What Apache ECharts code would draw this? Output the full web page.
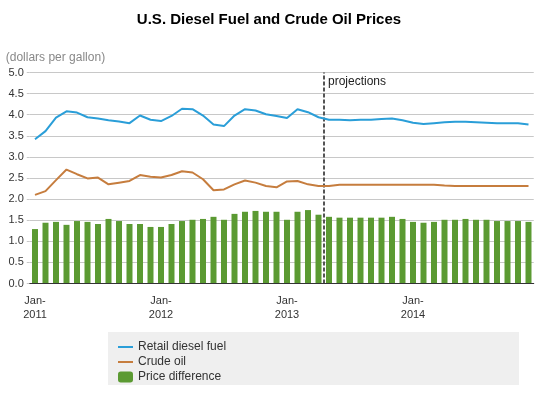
<!DOCTYPE html>
<html>
<head>
<meta charset="utf-8">
<title>U.S. Diesel Fuel and Crude Oil Prices</title>
<script src="https://cdn.jsdelivr.net/npm/echarts@6/dist/echarts.min.js"></script>
<style>
    html, body { margin: 0; padding: 0; background: #fff; }
    #chart { width: 538px; height: 397px; }
</style>
</head>
<body>
<div id="chart"></div>
<script>
var years = ['2011', '2012', '2013', '2014'];
var monthNames = ['Jan', 'Feb', 'Mar', 'Apr', 'May', 'Jun', 'Jul', 'Aug', 'Sep', 'Oct', 'Nov', 'Dec'];

// dollars per gallon, monthly Jan-2011 .. Dec-2014
var dieselFuel = [
    3.42, 3.61, 3.93, 4.08, 4.05, 3.94, 3.91, 3.87, 3.84, 3.80, 3.98, 3.88,
    3.85, 3.97, 4.14, 4.13, 3.98, 3.77, 3.73, 3.98, 4.13, 4.10, 4.01, 3.97,
    3.92, 4.13, 4.06, 3.94, 3.88, 3.88, 3.87, 3.88, 3.88, 3.90, 3.91, 3.87,
    3.81, 3.78, 3.80, 3.82, 3.83, 3.83, 3.82, 3.81, 3.80, 3.80, 3.80, 3.77
];
var crudeOil = [
    2.10, 2.19, 2.45, 2.70, 2.59, 2.49, 2.51, 2.35, 2.39, 2.43, 2.57, 2.53,
    2.51, 2.57, 2.66, 2.63, 2.47, 2.21, 2.23, 2.35, 2.44, 2.39, 2.31, 2.28,
    2.42, 2.43, 2.35, 2.31, 2.31, 2.34, 2.34, 2.34, 2.34, 2.34, 2.34, 2.34,
    2.34, 2.34, 2.34, 2.32, 2.31, 2.31, 2.31, 2.31, 2.31, 2.31, 2.31, 2.31
];
var priceDifference = [
    1.29, 1.44, 1.46, 1.39, 1.48, 1.46, 1.41, 1.53, 1.48, 1.41, 1.41, 1.34,
    1.34, 1.41, 1.48, 1.51, 1.53, 1.58, 1.51, 1.65, 1.70, 1.72, 1.70, 1.70,
    1.51, 1.70, 1.74, 1.63, 1.58, 1.56, 1.56, 1.56, 1.56, 1.56, 1.58, 1.53,
    1.46, 1.44, 1.46, 1.51, 1.51, 1.53, 1.51, 1.51, 1.48, 1.48, 1.48, 1.46
];
// projections start at the boundary between Apr-2013 and May-2013 (month 28)
var projectionStart = 28;

var months = [];
years.forEach(function(year){
    monthNames.forEach(function(m){
        months.push(m + '-' + year);
    });
});

var font = '"Liberation Sans", Arial, sans-serif';
var chart = echarts.init(document.getElementById('chart'));

chart.setOption({
    animation: false,
    textStyle: { fontFamily: font },
    title: {
        text: 'U.S. Diesel Fuel and Crude Oil Prices',
        left: 'center',
        top: 12,
        padding: 0,
        textStyle: { fontFamily: font, fontSize: 15, fontWeight: 'bold', color: '#000' }
    },
    grid: { left: 29.75, right: 4.25, top: 72.5, bottom: 113.5, containLabel: false },
    /**legend box and projections label */
    graphic: [
        {
            type: 'rect',
            z: -1,
            shape: { x: 108, y: 332, width: 411, height: 53 },
            style: { fill: '#efefef' }
        },
        {
            type: 'text',
            left: 328,
            top: 76,
            style: { text: 'projections', font: '12px ' + font, fill: '#222' }
        }
    ],
    legend: {
        orient: 'vertical',
        left: 118,
        top: 341,
        padding: 0,
        itemGap: 3,
        itemWidth: 15,
        itemHeight: 11,
        textStyle: { fontFamily: font, fontSize: 12, color: '#333' },
        data: [
            { name: 'Retail diesel fuel', icon: 'path://M0 0H15V2H0Z' },
            { name: 'Crude oil', icon: 'path://M0 0H15V2H0Z' },
            { name: 'Price difference', icon: 'roundRect' }
        ]
    },
    xAxis: [
        {
            type: 'category',
            data: months,
            boundaryGap: true,
            z: 12,
            axisLine: { lineStyle: { color: '#333', width: 1 } },
            axisTick: { interval: 11, alignWithLabel: true, length: 4, lineStyle: { color: '#333' } },
            axisLabel: {
                interval: 11,
                margin: 10,
                fontSize: 11,
                lineHeight: 14,
                color: '#333',
                fontFamily: font,
                formatter: function(v){
                    var parts = v.split('-');
                    return parts[0] + '-\n' + parts[1];
                }
            },
            splitLine: { show: false }
        },
        {
            // hidden month scale used to put the projections line between months
            type: 'value',
            min: 0,
            max: months.length,
            show: false,
            splitLine: { show: false }
        }
    ],
    yAxis: {
        type: 'value',
        min: 0,
        max: 5,
        interval: 0.5,
        z: 0,
        name: '(dollars per gallon)',
        nameLocation: 'end',
        nameGap: 9,
        nameTextStyle: { align: 'left', padding: [0, 0, 0, -24], fontSize: 12, color: '#888', fontFamily: font },
        axisLine: { show: false },
        axisTick: { show: true, length: 3, lineStyle: { color: '#c8c8c8' } },
        axisLabel: {
            margin: 6,
            fontSize: 11,
            color: '#333',
            fontFamily: font,
            formatter: function(v){ return v.toFixed(1); }
        },
        splitLine: { lineStyle: { color: '#c8c8c8', width: 1 } }
    },
    series: [
        {
            name: 'Price difference',
            type: 'bar',
            data: priceDifference,
            barWidth: 6,
            z: 8,
            itemStyle: { color: '#5b9a32', opacity: 1 }
        },
        {
            name: 'Retail diesel fuel',
            type: 'line',
            data: dieselFuel,
            symbol: 'none',
            lineStyle: { color: '#2a9ed8', width: 2 },
            itemStyle: { color: '#2a9ed8' },
            z: 9
        },
        {
            name: 'Crude oil',
            type: 'line',
            data: crudeOil,
            symbol: 'none',
            lineStyle: { color: '#c67d3e', width: 2 },
            itemStyle: { color: '#c67d3e' },
            z: 9
        },
        {
            name: 'projections',
            type: 'line',
            xAxisIndex: 1,
            data: [],
            silent: true,
            z: 10,
            markLine: {
                symbol: 'none',
                silent: true,
                label: { show: false },
                lineStyle: { color: '#555', width: 2, type: [4, 2] },
                data: [{ xAxis: projectionStart }]
            }
        }
    ]
});
</script>
</body>
</html>
